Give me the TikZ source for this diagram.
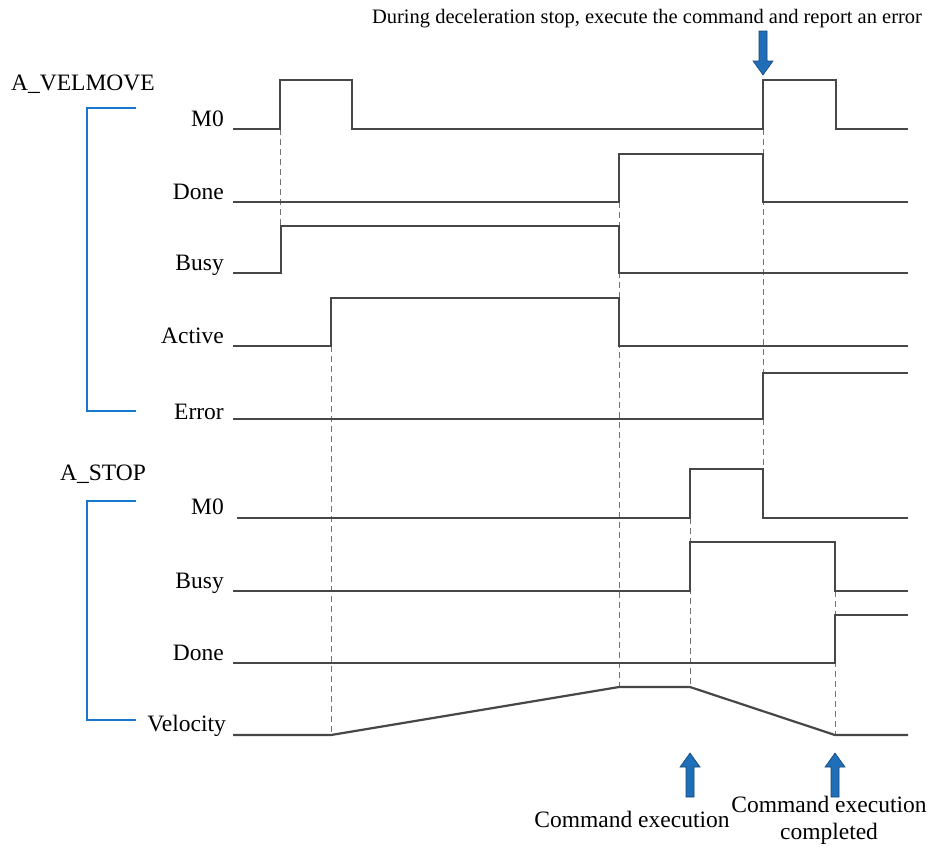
\documentclass[tikz,border=0pt]{standalone}
\usepackage{fontspec}
\setmainfont{Liberation Serif}
\begin{document}
\begin{tikzpicture}[x=1pt,y=-1pt,
  sig/.style={draw=black!72,line width=2.2pt,line join=miter},
  guide/.style={draw=black!55,line width=0.8pt,dash pattern=on 6pt off 4pt},
  brk/.style={draw={rgb,255:red,24;green,118;blue,204},line width=2.2pt},
  lbl/.style={font=\fontsize{23.5}{27}\selectfont,inner sep=0pt,anchor=base east},
  ttl/.style={font=\fontsize{23.5}{27}\selectfont,inner sep=0pt,anchor=base west},
  note/.style={font=\fontsize{20.5}{27}\selectfont,inner sep=0pt,align=center},
  bnote/.style={font=\fontsize{23.5}{27}\selectfont,inner sep=0pt,align=center},
  barrow/.pic={\filldraw[fill={rgb,255:red,31;green,110;blue,184},draw={rgb,255:red,20;green,70;blue,120},line width=0.6pt]
     (0,0) -- (10,14) -- (4,14) -- (4,44) -- (-4,44) -- (-4,14) -- (-10,14) -- cycle;}
]
\useasboundingbox (0,0) rectangle (933,846);
% titles
\node[ttl] (tv) at (11,90) {A\_VELMOVE};
\node[ttl] (ts) at (60,480) {A\_STOP};
% brackets
\draw[brk] (136,108) -- (87,108) -- (87,411) -- (136,411);
\draw[brk] (136,501) -- (87,501) -- (87,720) -- (136,720);
% labels
\node[lbl] (l1) at (224,126) {M0};
\node[lbl] (l2) at (224,199) {Done};
\node[lbl] (l3) at (224,270) {Busy};
\node[lbl] (l4) at (224,343) {Active};
\node[lbl] (l5) at (224,419) {Error};
\node[lbl] (l6) at (224,514) {M0};
\node[lbl] (l7) at (224,588) {Busy};
\node[lbl] (l8) at (224,660) {Done};
\node[lbl] (l9) at (226,731) {Velocity};
% dashed guides
\draw[guide] (280,129) -- (280,226);
\draw[guide] (331,346) -- (331,735);
\draw[guide] (619,202) -- (619,687);
\draw[guide] (763,129) -- (763,469);
\draw[guide] (690,518) -- (690,687);
\draw[guide] (835,591) -- (835,735);
% signals
\draw[sig] (233,129) -- (280,129) -- (280,80) -- (352,80) -- (352,129) -- (763,129) -- (763,80) -- (836,80) -- (836,129) -- (908,129);
\draw[sig] (233,202) -- (619,202) -- (619,154) -- (763,154) -- (763,202) -- (908,202);
\draw[sig] (233,273) -- (281,273) -- (281,226) -- (619,226) -- (619,273) -- (908,273);
\draw[sig] (233,346) -- (331,346) -- (331,298) -- (619,298) -- (619,346) -- (908,346);
\draw[sig] (233,419) -- (763,419) -- (763,373) -- (908,373);
\draw[sig] (237,518) -- (690,518) -- (690,469) -- (763,469) -- (763,518) -- (908,518);
\draw[sig] (233,591) -- (690,591) -- (690,542) -- (835,542) -- (835,591) -- (908,591);
\draw[sig] (233,663) -- (835,663) -- (835,615) -- (908,615);
\draw[sig] (233,735) -- (331,735) -- (619,687) -- (690,687) -- (835,735) -- (908,735);
% arrows
\pic[rotate=180] at (763,75) {barrow};
\pic at (690,753) {barrow};
\pic at (835,753) {barrow};
% notes
\node[note,anchor=base] (n1) at (647,23) {During deceleration stop, execute the command and report an error};
\node[bnote,anchor=base] (n2) at (632,827) {Command execution};
\node[bnote,anchor=base] (n3) at (829,839) {Command execution\\completed};
\end{tikzpicture}
\end{document}
